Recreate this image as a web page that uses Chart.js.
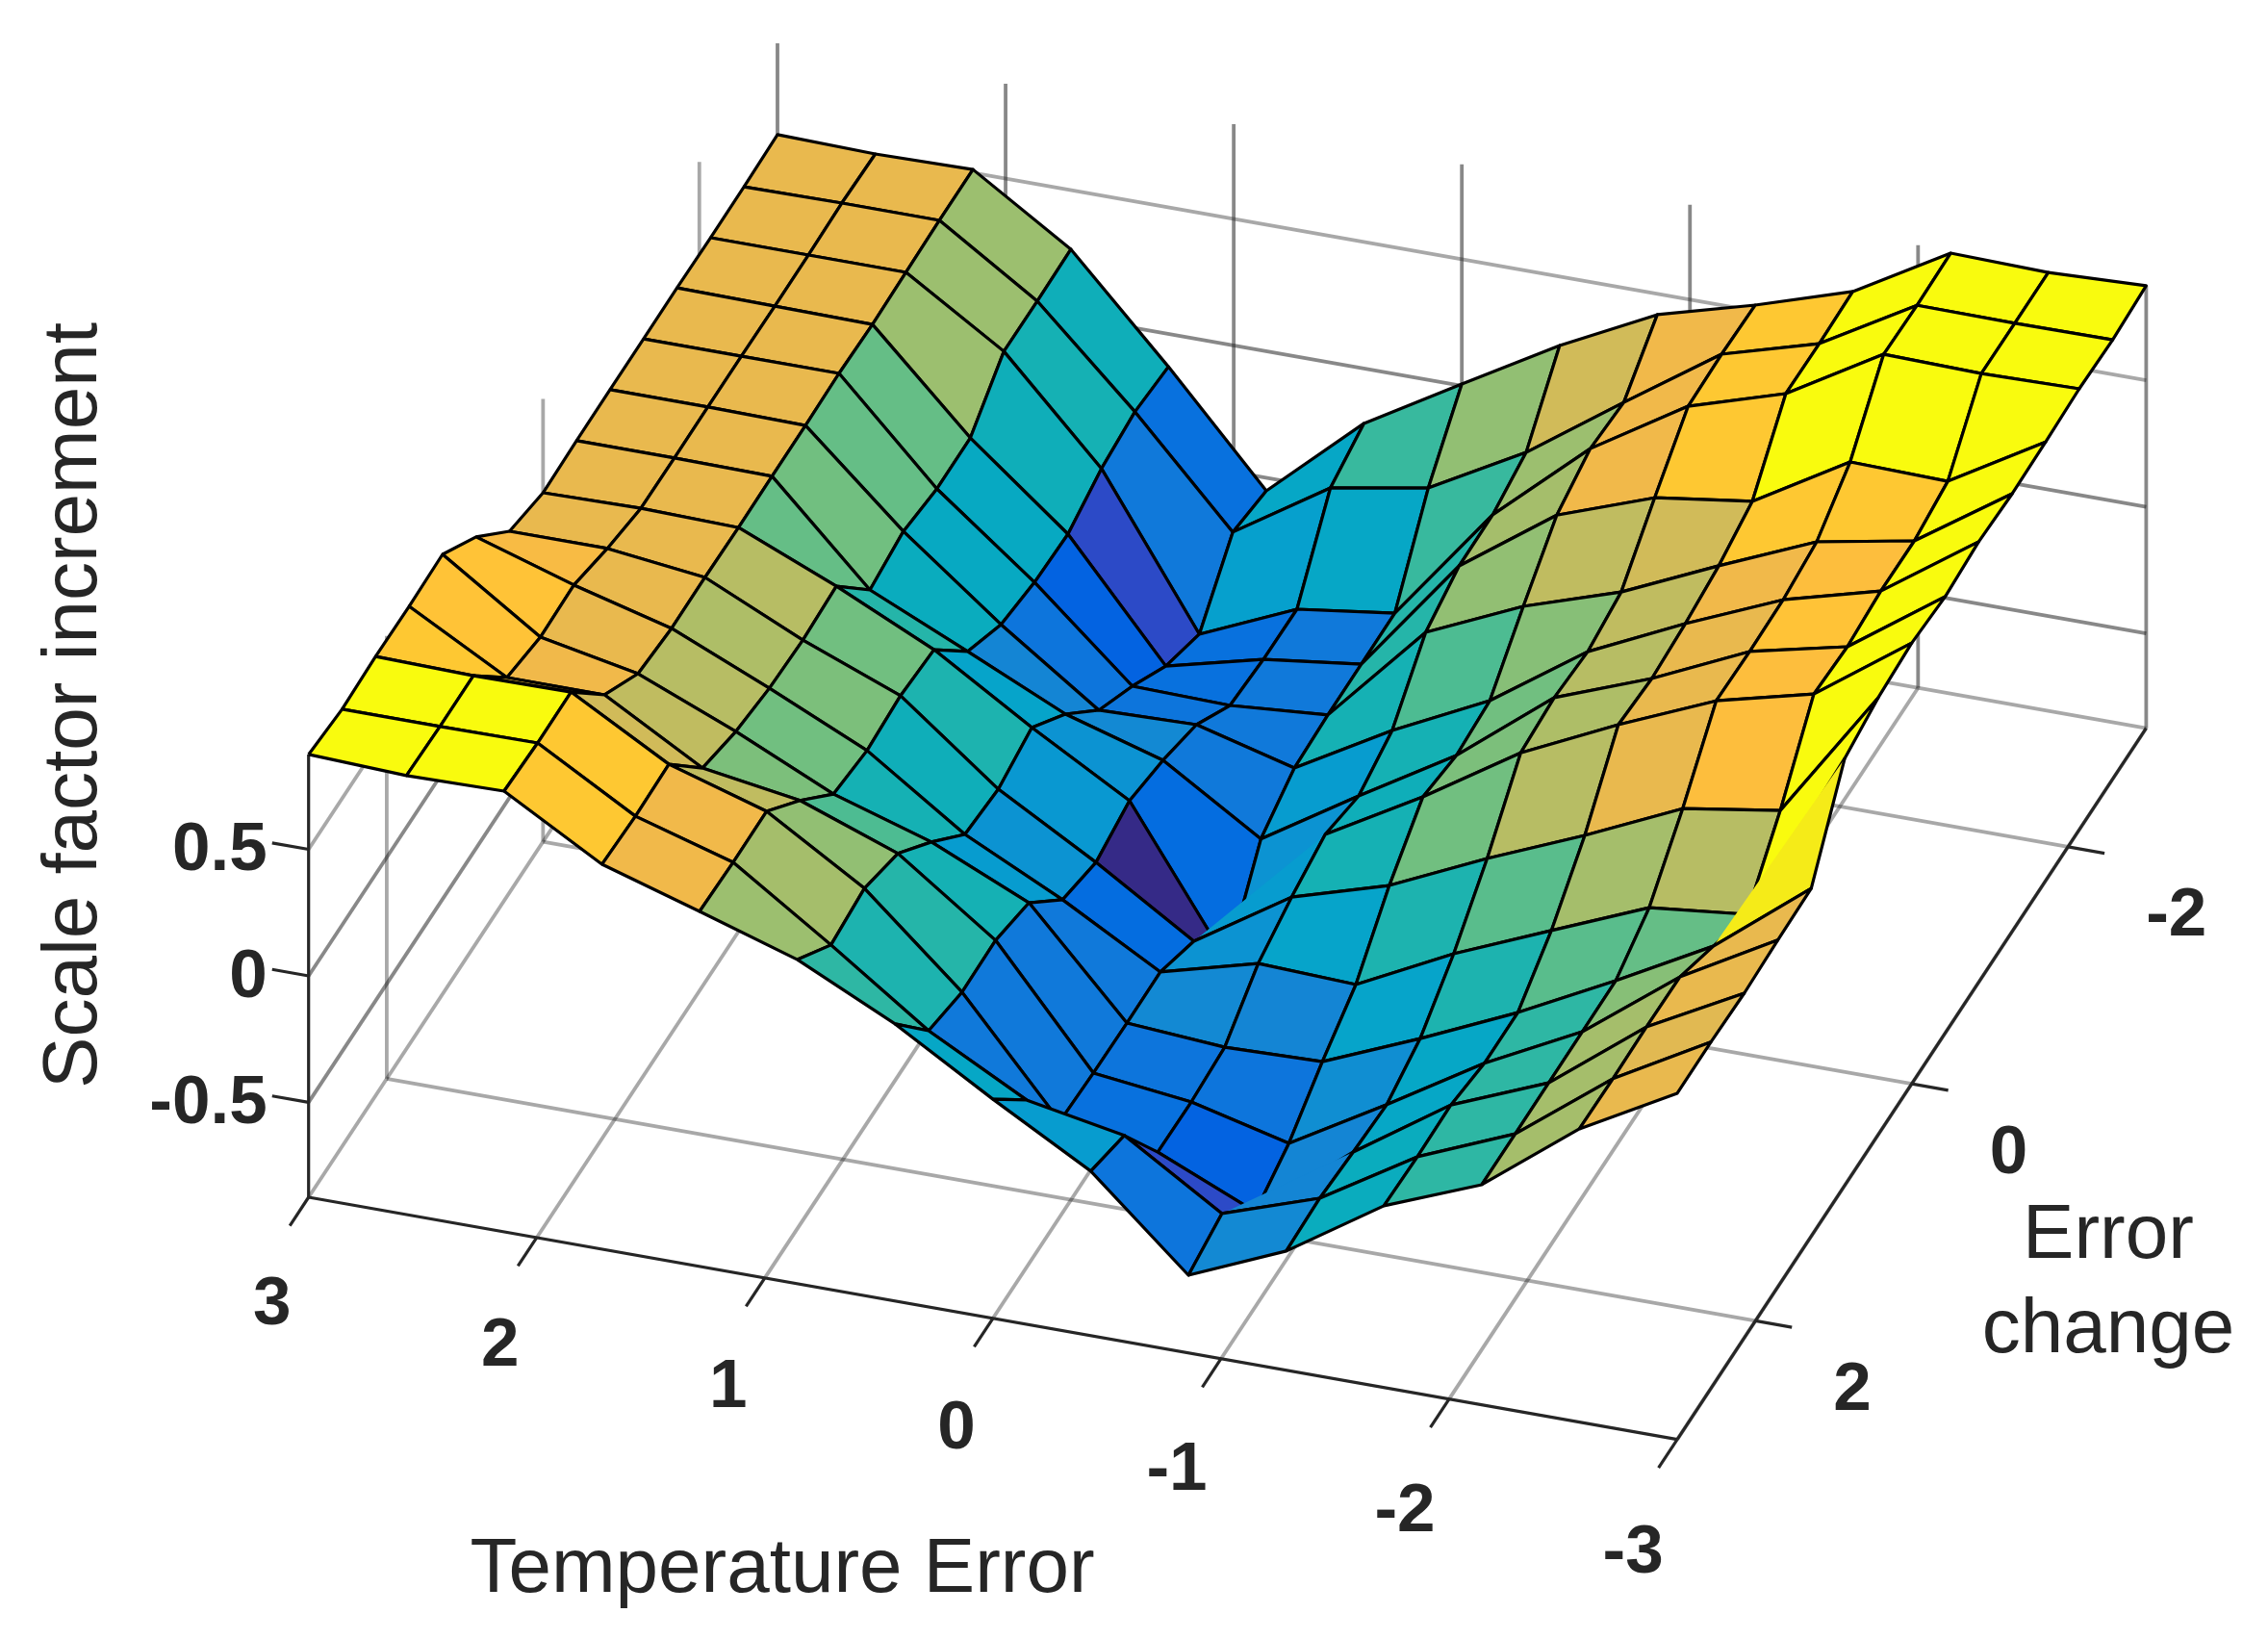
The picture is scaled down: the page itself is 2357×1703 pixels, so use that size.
<!DOCTYPE html>
<html>
<head>
<meta charset="utf-8">
<style>
  html, body { margin: 0; padding: 0; background: #fff; }
  canvas { display: block; }
</style>
<script src="https://cdn.jsdelivr.net/npm/chart.js@4/dist/chart.umd.min.js"></script>
</head>
<body>
<canvas id="surface" width="2357" height="1703"></canvas>
<script>
// surface nodes, 15 x 15
const tempError = [3, 2.571, 2.143, 1.714, 1.286, 0.857, 0.429, 0, -0.429, -0.857, -1.286, -1.714, -2.143, -2.571, -3];
const errorChange = [3, 2.571, 2.143, 1.714, 1.286, 0.857, 0.429, 0, -0.429, -0.857, -1.286, -1.714, -2.143, -2.571, -3];

// one row per tempError value, one entry per errorChange value
const scaleIncrement = [
  [0.875, 0.853, 0.861, 0.858, 0.863, 0.731, 0.553, 0.504, 0.509, 0.510, 0.510, 0.511, 0.508, 0.509, 0.514],
  [0.860, 0.853, 0.853, 0.645, 0.604, 0.609, 0.553, 0.511, 0.509, 0.510, 0.510, 0.507, 0.508, 0.513, 0.506],
  [0.867, 0.856, 0.857, 0.645, 0.528, 0.506, 0.507, 0.503, 0.505, 0.505, 0.510, 0.503, 0.508, 0.513, 0.513],
  [0.646, 0.635, 0.640, 0.424, 0.368, 0.338, 0.328, 0.340, 0.124, 0.155, 0.122, 0.123, 0.264, 0.262, 0.266],
  [0.528, 0.521, 0.522, 0.364, 0.189, 0.160, 0.176, 0.157, -0.051, -0.145, -0.179, -0.189, -0.131, -0.107, -0.130],
  [0.406, 0.263, 0.286, 0.223, 0.068, -0.103, -0.125, -0.082, -0.230, -0.415, -0.521, -0.642, -0.717, -0.514, -0.552],
  [0.220, -0.008, -0.056, -0.052, -0.104, -0.293, -0.346, -0.303, -0.344, -0.404, -0.529, -0.547, -0.550, -0.271, -0.217],
  [-0.009, -0.213, -0.498, -0.508, -0.511, -0.510, -0.589, -0.870, -0.587, -0.507, -0.498, -0.498, -0.497, -0.203, 0.007],
  [-0.225, -0.285, -0.551, -0.554, -0.538, -0.408, -0.346, -0.299, -0.348, -0.290, -0.103, -0.041, -0.040, 0.006, 0.228],
  [-0.568, -0.525, -0.719, -0.649, -0.527, -0.423, -0.232, -0.083, -0.120, -0.104, 0.068, 0.228, 0.290, 0.272, 0.418],
  [-0.404, -0.396, -0.414, -0.428, -0.367, -0.233, -0.057, 0.160, 0.177, 0.158, 0.193, 0.365, 0.526, 0.531, 0.524],
  [-0.157, -0.164, -0.160, -0.196, -0.196, -0.073, 0.103, 0.339, 0.321, 0.337, 0.365, 0.419, 0.644, 0.641, 0.646],
  [-0.005, -0.005, -0.004, -0.003, -0.002, 0.086, 0.277, 0.502, 0.496, 0.500, 0.528, 0.643, 0.868, 0.861, 0.866],
  [0.284, 0.281, 0.285, 0.282, 0.203, 0.128, 0.338, 0.597, 0.583, 0.603, 0.600, 0.635, 0.860, 0.858, 0.858],
  [0.493, 0.494, 0.487, 0.496, 0.500, 0.813, 0.852, 0.867, 0.850, 0.866, 0.855, 0.859, 0.868, 0.861, 0.874]
];

const teTicks = [3, 2, 1, 0, -1, -2, -3];
const ecTicks = [2, 0, -2];
const zTicks = [0.5, 0, -0.5];
const zTickLabels = ['0.5', '0', '-0.5'];

const zMin = -0.875;
const zMax = 0.875;

// old MATLAB parula, 64 steps
const parula = [
  [0.2081,0.1663,0.5292],[0.2116,0.1898,0.5777],[0.2123,0.2138,0.6270],[0.2081,0.2386,0.6771],
  [0.1959,0.2645,0.7279],[0.1707,0.2919,0.7792],[0.1253,0.3242,0.8303],[0.0591,0.3598,0.8683],
  [0.0117,0.3875,0.8820],[0.0060,0.4086,0.8828],[0.0165,0.4266,0.8786],[0.0329,0.4430,0.8720],
  [0.0498,0.4586,0.8641],[0.0629,0.4737,0.8554],[0.0723,0.4887,0.8467],[0.0779,0.5040,0.8384],
  [0.0793,0.5200,0.8312],[0.0749,0.5375,0.8263],[0.0641,0.5570,0.8240],[0.0488,0.5772,0.8228],
  [0.0343,0.5966,0.8199],[0.0265,0.6137,0.8135],[0.0239,0.6287,0.8038],[0.0231,0.6418,0.7913],
  [0.0228,0.6535,0.7768],[0.0267,0.6642,0.7607],[0.0384,0.6743,0.7436],[0.0590,0.6838,0.7254],
  [0.0843,0.6928,0.7062],[0.1133,0.7015,0.6859],[0.1453,0.7098,0.6646],[0.1801,0.7177,0.6424],
  [0.2178,0.7250,0.6193],[0.2586,0.7317,0.5954],[0.3022,0.7376,0.5712],[0.3482,0.7424,0.5473],
  [0.3953,0.7459,0.5244],[0.4420,0.7481,0.5033],[0.4871,0.7491,0.4840],[0.5300,0.7491,0.4661],
  [0.5709,0.7485,0.4494],[0.6099,0.7473,0.4337],[0.6473,0.7456,0.4188],[0.6834,0.7435,0.4044],
  [0.7184,0.7411,0.3905],[0.7525,0.7384,0.3768],[0.7858,0.7356,0.3633],[0.8185,0.7327,0.3498],
  [0.8507,0.7299,0.3360],[0.8824,0.7274,0.3217],[0.9139,0.7258,0.3063],[0.9450,0.7261,0.2886],
  [0.9739,0.7314,0.2666],[0.9938,0.7455,0.2403],[0.9990,0.7653,0.2164],[0.9955,0.7861,0.1967],
  [0.9880,0.8066,0.1794],[0.9789,0.8271,0.1633],[0.9697,0.8481,0.1475],[0.9626,0.8705,0.1309],
  [0.9589,0.8949,0.1132],[0.9598,0.9218,0.0948],[0.9661,0.9514,0.0755],[0.9763,0.9831,0.0538]
];

const INK = '#262626';
const GRID = 'rgba(38,38,38,0.40)';
const GRID_DARK = 'rgba(38,38,38,0.55)';
const EDGE_WIDTH = 3.2;

// orthographic view, result is in the units of the hidden x/y scales
function project(te, ec, z) {
  const a = (3 - te) / 6;
  const b = (3 - ec) / 6;
  return {
    x: 320.7 + a * 1422.4 + b * 487.3,
    y: 1244 + a * 251.6 - b * 738.9 - (z - zMin) * 262.9
  };
}

function colorFor(z) {
  let idx = Math.floor((z - zMin) / (zMax - zMin) * parula.length);
  idx = Math.max(0, Math.min(parula.length - 1, idx));
  const c = parula[idx];
  return `rgb(${Math.round(c[0] * 255)},${Math.round(c[1] * 255)},${Math.round(c[2] * 255)})`;
}

function lineSet(from, to, color, width) {
  return {
    data: [project(...from), project(...to)],
    showLine: true, borderColor: color, borderWidth: width,
    pointRadius: 0, fill: false, tension: 0, borderCapStyle: 'butt'
  };
}

function buildBoxLines() {
  const sets = [];
  const wallTe = 3, wallEc = -3, frontEc = 3, sideTe = -3;
  teTicks.forEach(te => {
    sets.push(lineSet([te, frontEc, zMin], [te, wallEc, zMin], GRID, 3.8));
    sets.push(lineSet([te, wallEc, zMin], [te, wallEc, zMax], GRID_DARK, 3.8));
  });
  ecTicks.forEach(ec => {
    sets.push(lineSet([wallTe, ec, zMin], [sideTe, ec, zMin], GRID, 3.8));
    sets.push(lineSet([wallTe, ec, zMin], [wallTe, ec, zMax], GRID, 3.8));
  });
  sets.push(lineSet([wallTe, wallEc, zMin], [sideTe, wallEc, zMin], GRID, 3.8));
  zTicks.forEach(z => {
    const color = z < zTicks[0] ? GRID_DARK : GRID;
    sets.push(lineSet([wallTe, frontEc, z], [wallTe, wallEc, z], color, 3.8));
    sets.push(lineSet([wallTe, wallEc, z], [sideTe, wallEc, z], color, 3.8));
  });

  // dark axis lines and their ticks
  sets.push(lineSet([3, frontEc, zMin], [-3, frontEc, zMin], INK, EDGE_WIDTH));
  sets.push(lineSet([sideTe, 3, zMin], [sideTe, -3, zMin], INK, EDGE_WIDTH));
  sets.push(lineSet([wallTe, frontEc, zMin], [wallTe, frontEc, zMax], INK, EDGE_WIDTH));
  teTicks.forEach(te => sets.push(lineSet([te, frontEc, zMin], [te, frontEc + 0.24, zMin], INK, EDGE_WIDTH)));
  ecTicks.forEach(ec => sets.push(lineSet([sideTe, ec, zMin], [sideTe - 0.16, ec, zMin], INK, EDGE_WIDTH)));
  zTicks.forEach(z => sets.push(lineSet([wallTe, frontEc, z], [wallTe + 0.16, frontEc, z], INK, EDGE_WIDTH)));
  return sets;
}

function polySet(points, color) {
  return {
    data: points, showLine: true, fill: 'shape', backgroundColor: color,
    borderColor: 'rgba(0,0,0,0)', borderWidth: 0, pointRadius: 0, tension: 0
  };
}

function edgeSet(points) {
  return {
    data: points, showLine: true, fill: false, borderColor: '#000',
    borderWidth: EDGE_WIDTH, borderJoinStyle: 'round', pointRadius: 0, tension: 0
  };
}

// < 0 means the triangle faces the viewer
function facing(a, b, c) {
  return (b.x - a.x) * (c.y - a.y) - (b.y - a.y) * (c.x - a.x);
}

function node(a, b) {
  return project(tempError[a], errorChange[b], scaleIncrement[a][b]);
}

// back to front: tempError index going up, errorChange index going down.
// a cell that folds over itself only shows its front triangle
function buildCells() {
  const sets = [];
  for (let i = 0; i < tempError.length - 1; i++) {
    for (let j = errorChange.length - 2; j >= 0; j--) {
      const p00 = node(i, j), p10 = node(i + 1, j), p11 = node(i + 1, j + 1), p01 = node(i, j + 1);
      const color = colorFor(scaleIncrement[i + 1][j + 1]);
      const lowerFront = facing(p00, p10, p11) < 0;
      const upperFront = facing(p00, p11, p01) < 0;
      if (lowerFront && upperFront) {
        sets.push(polySet([p00, p10, p11, p01, p00], color));
        sets.push(edgeSet([p00, p10, p11, p01, p00]));
      } else if (lowerFront) {
        sets.push(polySet([p00, p10, p11, p00], color));
        sets.push(edgeSet([p00, p10, p11]));
      } else if (upperFront) {
        sets.push(polySet([p00, p11, p01, p00], color));
        sets.push(edgeSet([p11, p01, p00]));
      }
    }
  }
  return sets;
}

const axisText = {
  id: 'axisText',
  afterDraw(chart) {
    const { ctx, scales: { x, y } } = chart;
    const put = (label, te, ec, z, dx, dy, align) => {
      const p = project(te, ec, z);
      ctx.textAlign = align;
      ctx.fillText(label, x.getPixelForValue(p.x) + dx, y.getPixelForValue(p.y) + dy);
    };
    ctx.save();
    ctx.fillStyle = INK;
    ctx.textBaseline = 'middle';

    ctx.font = 'bold 71px "Liberation Sans"';
    teTicks.forEach(te => put(String(te), te, 3, zMin, te < 0 ? -46 : -38, 112 + (3 - te) * 1.2, 'center'));
    ecTicks.forEach(ec => put(String(ec), -3, ec, zMin, 81, 73, 'left'));
    zTicks.forEach((z, k) => put(zTickLabels[k], 3, 3, z, -43, 2, 'right'));

    ctx.font = '80px "Liberation Sans"';
    ctx.textAlign = 'center';
    ctx.fillText('Temperature Error', 813, 1632);
    ctx.fillText('Error', 2191, 1285);
    ctx.fillText('change', 2191, 1383);
    ctx.translate(78, 733);
    ctx.rotate(-Math.PI / 2);
    ctx.fillText('Scale factor increment', 0, 0);
    ctx.restore();
  }
};

// Chart.js paints the first dataset last
const datasets = [...buildBoxLines(), ...buildCells()].reverse();

new Chart(document.getElementById('surface').getContext('2d'), {
  type: 'scatter',
  data: { datasets },
  options: {
    responsive: false,
    animation: false,
    events: [],
    layout: { padding: 0 },
    scales: {
      x: { type: 'linear', min: 0, max: 2357, display: false },
      y: { type: 'linear', min: 0, max: 1703, reverse: true, display: false }
    },
    plugins: { legend: { display: false }, tooltip: { enabled: false }, title: { display: false } }
  },
  plugins: [axisText]
});
</script>
</body>
</html>
